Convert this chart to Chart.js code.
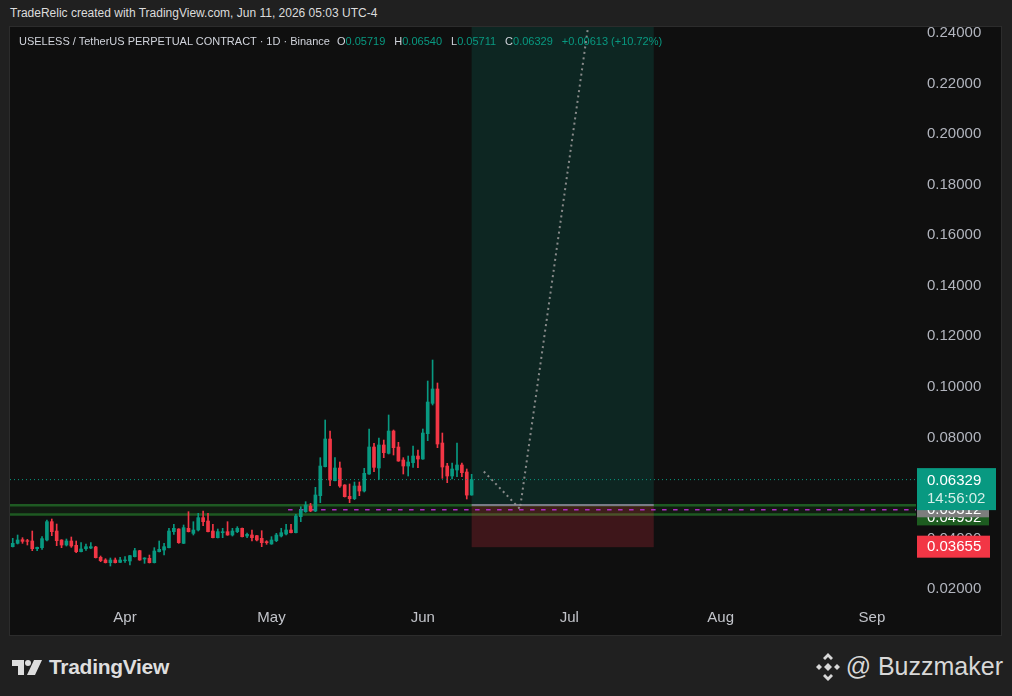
<!DOCTYPE html>
<html>
<head>
<meta charset="utf-8">
<script src="https://cdn.jsdelivr.net/npm/chart.js@4.4.1/dist/chart.umd.min.js"></script>
<style>
  html, body { margin: 0; padding: 0; width: 1012px; height: 696px; overflow: hidden; background: #202020; font-family: 'Liberation Sans', Arial, sans-serif; }
  #top { position: absolute; left: 10px; top: 6px; font-size: 12px; color: #dcdcdc; white-space: pre; }
  #pane { position: absolute; left: 9px; top: 26px; width: 991px; height: 608px; background: #0f0f0f; border: 1px solid #2c2c2c; }
  #c { position: absolute; left: 0; top: 0; }
  #legend { position: absolute; left: 9px; top: 8px; font-size: 11px; color: #d1d4dc; white-space: nowrap; }
  #legend span { margin-right: 9px; }
  #legend .s { margin-right: 7px; }
  #legend .v { color: #089981; margin: 0; }
  #tv { position: absolute; left: 12px; top: 655px; display: flex; align-items: center; color: #dedede; font-size: 21px; font-weight: bold; letter-spacing: -0.3px; }
  #tv svg { margin-right: 7px; }
  #bz { position: absolute; right: 9px; top: 652px; display: flex; align-items: center; color: #d8d8d8; font-size: 25px; }
  #bz svg { margin-right: 6px; }
</style>
</head>
<body>
<div id="top">TradeRelic created with TradingView.com, Jun 11, 2026 05:03 UTC-4</div>
<div id="pane">
  <canvas id="c" width="991" height="608"></canvas>
  <div id="legend"></div>
</div>
<div id="tv">
  <svg width="30" height="15" viewBox="0 0 30 15"><path d="M0 0H12V15H6V6H0Z" fill="#dedede"/><circle cx="16" cy="3" r="3" fill="#dedede"/><path d="M22 0H30L23 15H15Z" fill="#dedede"/></svg>TradingView
</div>
<div id="bz">
  <svg width="24" height="28" viewBox="0 0 24 28" fill="#d8d8d8">
    <path d="M12 0L17 5L15 7L12 4L9 7L7 5Z"/>
    <path d="M12 28L7 23L9 21L12 24L15 21L17 23Z"/>
    <path d="M3 11L6 14L3 17L0 14Z"/><path d="M21 11L24 14L21 17L18 14Z"/>
    <path d="M12 10L16 14L12 18L8 14Z"/>
  </svg>@ Buzzmaker
</div>
<script>
// USELESS / USDT perpetual, daily candles from Mar 9 to Jun 11
const firstCandle = '2026-03-09';
const axisOrigin = '2026-04-01';
const opens = [0.03675,0.03807,0.03952,0.03913,0.03900,0.03596,0.03636,0.03939,0.04665,0.04295,
  0.03939,0.03741,0.03900,0.03728,0.03477,0.03596,0.03622,0.03662,0.03253,0.03148,
  0.03042,0.03148,0.03055,0.03121,0.03108,0.03279,0.03517,0.03187,0.03214,0.03042,
  0.03477,0.03543,0.03636,0.04269,0.04374,0.03807,0.04401,0.04203,0.04335,0.04823,
  0.04691,0.04295,0.04031,0.04229,0.04269,0.04137,0.04269,0.04401,0.04097,0.04137,
  0.04110,0.04005,0.03873,0.03781,0.03913,0.04097,0.04177,0.04335,0.04229,0.04862,
  0.05060,0.05285,0.05087,0.05693,0.06841,0.07936,0.06287,0.06788,0.06116,0.05667,
  0.05575,0.06076,0.05878,0.06551,0.07619,0.06788,0.07699,0.07369,0.08252,0.07619,
  0.07105,0.06867,0.06999,0.07263,0.07144,0.08147,0.09347,0.09915,0.07778,0.06867,
  0.06472,0.06709,0.06907,0.06630,0.05719];
const highs = [0.04005,0.04137,0.04031,0.03966,0.04295,0.03662,0.04071,0.04731,0.04770,0.04572,
  0.03952,0.03979,0.04058,0.03900,0.03834,0.03781,0.03834,0.03689,0.03306,0.03200,
  0.03227,0.03227,0.03253,0.03279,0.03332,0.03609,0.03530,0.03240,0.03345,0.03636,
  0.03900,0.03807,0.04401,0.04559,0.04388,0.04533,0.05060,0.04664,0.04994,0.05087,
  0.04994,0.04559,0.04374,0.04401,0.04664,0.04401,0.04467,0.04414,0.04216,0.04335,
  0.04124,0.04308,0.03913,0.04071,0.04203,0.04401,0.04559,0.04559,0.04955,0.05258,
  0.05456,0.05390,0.06023,0.07197,0.08688,0.08252,0.07197,0.07026,0.06129,0.06155,
  0.06234,0.06234,0.06775,0.08332,0.07765,0.07975,0.07896,0.08886,0.08292,0.07804,
  0.07197,0.07263,0.07659,0.07501,0.08332,0.10231,0.11062,0.10152,0.08173,0.06973,
  0.06986,0.07778,0.06986,0.06749,0.06540];
const lows = [0.03662,0.03781,0.03807,0.03741,0.03517,0.03517,0.03570,0.03900,0.04111,0.03715,
  0.03636,0.03702,0.03649,0.03438,0.03464,0.03530,0.03596,0.03227,0.03082,0.03029,
  0.02910,0.03029,0.03042,0.03055,0.02950,0.03266,0.03135,0.03016,0.03029,0.03029,
  0.03464,0.03345,0.03623,0.04163,0.03807,0.03794,0.04256,0.04137,0.04295,0.04506,
  0.04256,0.04018,0.04018,0.04031,0.04124,0.04097,0.04229,0.04058,0.04031,0.03900,
  0.03900,0.03675,0.03768,0.03768,0.03873,0.04058,0.04137,0.04216,0.04216,0.04664,
  0.05034,0.05060,0.05060,0.05416,0.06828,0.06089,0.06274,0.06023,0.05640,0.05416,
  0.05535,0.05693,0.05839,0.06538,0.06643,0.06340,0.07197,0.07342,0.07303,0.07052,
  0.06551,0.06472,0.06815,0.06801,0.07131,0.07870,0.09281,0.07593,0.06380,0.06208,
  0.06353,0.06445,0.06445,0.05562,0.05711];
const closes = [0.03807,0.03939,0.03886,0.03886,0.03596,0.03649,0.03992,0.04665,0.04269,0.03913,
  0.03741,0.03900,0.03702,0.03477,0.03583,0.03675,0.03675,0.03240,0.03121,0.03042,
  0.03148,0.03042,0.03148,0.03148,0.03319,0.03517,0.03148,0.03227,0.03042,0.03504,
  0.03570,0.03675,0.04295,0.04401,0.03833,0.04427,0.04269,0.04335,0.04823,0.04664,
  0.04269,0.04031,0.04269,0.04269,0.04137,0.04295,0.04401,0.04071,0.04163,0.04031,
  0.03939,0.03833,0.03833,0.03939,0.04137,0.04229,0.04335,0.04229,0.04889,0.05126,
  0.05324,0.05087,0.05720,0.06867,0.07936,0.06313,0.06788,0.06076,0.05654,0.05575,
  0.06076,0.05878,0.06577,0.07619,0.06815,0.07699,0.07395,0.08252,0.07593,0.07065,
  0.06867,0.07026,0.07263,0.07144,0.08173,0.09400,0.09915,0.07738,0.06828,0.06472,
  0.06749,0.06907,0.06604,0.05716,0.06329];

// Axes
const monthStarts = ['2026-04-01','2026-05-01','2026-06-01','2026-07-01','2026-08-01','2026-09-01'];
const monthLabels = ['Apr','May','Jun','Jul','Aug','Sep'];
const yTicks = [0.02,0.04,0.06,0.08,0.10,0.12,0.14,0.16,0.18,0.20,0.22,0.24];
const xMin = -23.56, xMax = 162.02;
const yMin = 0.01565, yMax = 0.2424;

// Drawing tools (long position, levels, projection)
const posStart = 71, posEnd = 108.3;
const posEntry = 0.0532, posStop = 0.03655, posTarget = 0.26;
const levelPrices = [0.05312, 0.04952];
const purpleLevel = 0.05138, purpleStart = 33.4;
const projDays = [73.5, 80.9, 96.8];
const projPrices = [0.0665, 0.0517, 0.2692];
const countdown = '14:56:02';

const UP = '#089981', DOWN = '#f23645';
const dayOf = s => Math.round((new Date(s) - new Date(axisOrigin)) / 864e5);
const d0 = dayOf(firstCandle);
const days = closes.map((_, i) => d0 + i);
const monthDays = monthStarts.map(dayOf);
const colors = closes.map((c, i) => c >= opens[i] ? UP : DOWN);
const last = closes.length - 1;
const fmt = v => v.toFixed(5);

// Legend line
{
  const chg = closes[last] - closes[last - 1];
  const pct = chg / closes[last - 1] * 100;
  const sign = chg >= 0 ? '+' : '-';
  document.getElementById('legend').innerHTML =
    '<span class="s">USELESS / TetherUS PERPETUAL CONTRACT · 1D · Binance</span>' +
    `<span>O<span class="v">${fmt(opens[last])}</span></span><span>H<span class="v">${fmt(highs[last])}</span></span>` +
    `<span>L<span class="v">${fmt(lows[last])}</span></span><span>C<span class="v">${fmt(closes[last])}</span></span>` +
    `<span class="v">${sign}${fmt(Math.abs(chg))} (${sign}${Math.abs(pct).toFixed(2)}%)</span>`;
}

const overlay = {
  id: 'overlay',
  beforeDatasetsDraw(chart) {
    const { ctx, chartArea: a, scales: { x, y } } = chart;
    ctx.save();
    ctx.beginPath(); ctx.rect(a.left, a.top, a.right - a.left, a.bottom - a.top); ctx.clip();
    const y1 = y.getPixelForValue(levelPrices[0]), y2 = y.getPixelForValue(levelPrices[1]);
    ctx.fillStyle = 'rgba(30,94,34,0.16)';
    ctx.fillRect(a.left, y1, a.right - a.left, y2 - y1);
    ctx.strokeStyle = '#1e5a22'; ctx.lineWidth = 2.5;
    levelPrices.forEach(p => {
      const yy = y.getPixelForValue(p);
      ctx.beginPath(); ctx.moveTo(a.left, yy); ctx.lineTo(a.right, yy); ctx.stroke();
    });
    const xl = x.getPixelForValue(posStart), xr = x.getPixelForValue(posEnd);
    const ye = y.getPixelForValue(posEntry), yt = y.getPixelForValue(posTarget), ys = y.getPixelForValue(posStop);
    ctx.fillStyle = 'rgba(8,153,129,0.17)';
    ctx.fillRect(xl, yt, xr - xl, ye - yt);
    ctx.fillStyle = 'rgba(242,54,69,0.21)';
    ctx.fillRect(xl, ye, xr - xl, ys - ye);
    ctx.strokeStyle = '#787b86'; ctx.lineWidth = 2;
    ctx.beginPath(); ctx.moveTo(xl, ye); ctx.lineTo(xr, ye); ctx.stroke();
    ctx.restore();
  },
  afterDraw(chart) {
    const { ctx, chartArea: a, scales: { y } } = chart;
    const xl = a.right + 1;
    ctx.save();
    ctx.font = '15px "Liberation Sans", Arial, sans-serif';
    ctx.textBaseline = 'middle'; ctx.textAlign = 'left';
    const box = (top, h, w, bg, text, fg) => {
      ctx.fillStyle = bg; ctx.fillRect(xl, top, w, h);
      if (text) { ctx.fillStyle = fg; ctx.fillText(text, xl + 10, top + h / 2 + 0.5); }
    };
    // lower level
    const pl = y.getPixelForValue(levelPrices[1]);
    box(pl - 5, 16, 72, '#1d5c20', fmt(levelPrices[1]), '#ffffff');
    // upper level
    const pu = y.getPixelForValue(levelPrices[0]);
    box(pu - 3, 15, 72, '#7d7d7d', fmt(levelPrices[0]), '#ffffff');
    // current price + countdown
    const pc = y.getPixelForValue(closes[last]);
    box(pc - 11.5, 42, 79, UP, null);
    ctx.fillStyle = '#ffffff'; ctx.fillText(fmt(closes[last]), xl + 10, pc + 1);
    ctx.fillStyle = '#d4eee8'; ctx.fillText(countdown, xl + 10, pc + 19.5);
    // stop
    const ps = y.getPixelForValue(posStop);
    box(ps - 11.5, 22, 73, DOWN, fmt(posStop), '#ffffff');
    ctx.restore();
  }
};

const line = (pts, color, width, dash, order) => ({
  type: 'line', data: pts, borderColor: color, borderWidth: width, borderDash: dash,
  pointRadius: 0, fill: false, tension: 0, order
});

new Chart(document.getElementById('c'), {
  type: 'bar',
  data: {
    datasets: [
      line(projDays.map((d, i) => ({ x: d, y: projPrices[i] })), 'rgba(150,150,150,0.9)', 2, [2, 3.5], 0),
      line([{ x: xMin, y: closes[last] }, { x: xMax, y: closes[last] }], UP, 1, [1, 3], 0),
      { type: 'bar', data: days.map((d, i) => ({ x: d, y: [opens[i], closes[i]] })),
        backgroundColor: colors, barThickness: 3, grouped: false, order: 1 },
      { type: 'bar', data: days.map((d, i) => ({ x: d, y: [lows[i], highs[i]] })),
        backgroundColor: colors, barThickness: 1, grouped: false, order: 2 },
      line([{ x: purpleStart, y: purpleLevel }, { x: xMax, y: purpleLevel }], '#b02cc4', 1.5, [4.5, 6.5], 3)
    ]
  },
  options: {
    responsive: false, animation: false,
    layout: { padding: 0 },
    plugins: { legend: { display: false }, tooltip: { enabled: false } },
    scales: {
      x: {
        type: 'linear', min: xMin, max: xMax, offset: false,
        grid: { display: false, drawTicks: false }, border: { display: false },
        afterFit: s => { s.height = 35; s.paddingLeft = 0; s.paddingRight = 0; },
        afterBuildTicks: s => { s.ticks = monthDays.map(v => ({ value: v })); },
        ticks: { autoSkip: false, maxRotation: 0, padding: 9, color: '#c2c4ca',
          font: { family: '"Liberation Sans", Arial, sans-serif', size: 15 },
          callback: v => monthLabels[monthDays.indexOf(v)] }
      },
      y: {
        position: 'right', min: yMin, max: yMax,
        grid: { display: false, drawTicks: false }, border: { display: false },
        afterFit: s => { s.width = 85; s.paddingTop = 0; s.paddingBottom = 0; },
        afterBuildTicks: s => { s.ticks = yTicks.map(v => ({ value: v })); },
        ticks: { padding: 11, crossAlign: 'near', color: '#b2b5be',
          font: { family: '"Liberation Sans", Arial, sans-serif', size: 15 },
          callback: v => fmt(v) }
      }
    }
  },
  plugins: [overlay]
});
</script>
</body>
</html>
